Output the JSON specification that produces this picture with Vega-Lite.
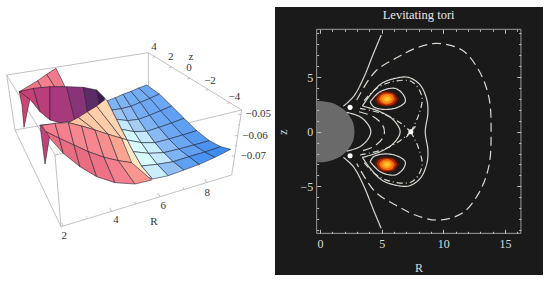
{"$schema":"https://vega.github.io/schema/vega-lite/v6.json","background":"white","padding":{"left":0,"top":7,"right":7,"bottom":6},"spacing":0,"bounds":"flush","config":{"view":{"stroke":null},"axis":{"grid":false}},
"hconcat":[
{"width":275,"height":268,"projection":{"type":"identity"},"layer":[
{"data":{"values":[{"type":"Feature","properties":{},"geometry":{"type":"Polygon","coordinates":[[[0,-69],[825,-69],[825,735],[0,735],[0,-69]]]}}]},"mark":{"type":"geoshape","fill":null,"stroke":null,"filled":false}},
{"data":{"values":[{"type":"Feature","properties":{},"geometry":{"type":"MultiLineString","coordinates":[[[20,135],[445,68],[725,240]],[[20,135],[45,300],[183,590],[695,435],[725,240]],[[20,135],[165,375],[183,590]],[[165,375],[725,240]],[[45,300],[445,230]],[[445,68],[445,230]],[[190,588],[185,578]],[[262,566],[259,560]],[[335,544],[329,533]],[[407,522],[404,516]],[[480,500],[474,489]],[[552,478],[549,472]],[[620,458],[614,447]],[[465,80],[457,82]],[[515,111],[507,113]],[[570,145],[562,147]],[[625,179],[617,181]],[[690,218],[682,220]],[[723,253],[714,253]],[[713,317],[704,317]],[[704,378],[695,378]],[[718,285],[713,285]],[[709,347],[704,347]]]}}]},"mark":{"type":"geoshape","filled":false,"stroke":"#a8a8a8","strokeWidth":0.7}},
{"data":{"values":[
{"type":"Feature","properties":{"shade":5.3},"geometry":{"type":"Polygon","coordinates":[[[58,185],[66,225],[72,292],[90,205],[100,175],[58,185]]]}},
{"type":"Feature","properties":{"shade":4.2},"geometry":{"type":"Polygon","coordinates":[[[58,185],[113,152],[125,173],[58,185]]]}},
{"type":"Feature","properties":{"shade":4.0},"geometry":{"type":"Polygon","coordinates":[[[113,152],[140,133],[165,171],[125,173],[113,152]]]}},
{"type":"Feature","properties":{"shade":4.1},"geometry":{"type":"Polygon","coordinates":[[[140,133],[168,115],[195,170],[165,171],[140,133]]]}},
{"type":"Feature","properties":{"shade":5.4},"geometry":{"type":"Polygon","coordinates":[[[58,185],[100,175],[120,245],[90,208],[58,185]]]}},
{"type":"Feature","properties":{"shade":5.6},"geometry":{"type":"Polygon","coordinates":[[[100,175],[150,170],[150,270],[120,245],[100,175]]]}},
{"type":"Feature","properties":{"shade":5.9},"geometry":{"type":"Polygon","coordinates":[[[150,170],[200,170],[225,273],[180,278],[150,270],[150,170]]]}},
{"type":"Feature","properties":{"shade":6.2},"geometry":{"type":"Polygon","coordinates":[[[200,170],[250,172],[265,258],[225,273],[200,170]]]}},
{"type":"Feature","properties":{"shade":6.6},"geometry":{"type":"Polygon","coordinates":[[[250,172],[290,180],[300,235],[265,258],[250,172]]]}},
{"type":"Feature","properties":{"shade":7},"geometry":{"type":"Polygon","coordinates":[[[290,180],[315,205],[300,235],[290,180]]]}},
{"type":"Feature","properties":{"shade":3.1},"geometry":{"type":"Polygon","coordinates":[[[205,278],[235,262],[285,300],[245,288],[205,278]]]}},
{"type":"Feature","properties":{"shade":3.0},"geometry":{"type":"Polygon","coordinates":[[[235,262],[262,245],[325,313],[285,300],[235,262]]]}},
{"type":"Feature","properties":{"shade":2.9},"geometry":{"type":"Polygon","coordinates":[[[262,245],[290,228],[365,325],[325,313],[262,245]]]}},
{"type":"Feature","properties":{"shade":2.7},"geometry":{"type":"Polygon","coordinates":[[[290,228],[316,208],[322,212],[336,240],[350,268],[365,298],[382,330],[365,325],[290,228]]]}},
{"type":"Feature","properties":{"shade":2.3},"geometry":{"type":"Polygon","coordinates":[[[365,325],[382,330],[400,365],[425,408],[458,447],[410,430],[385,390],[365,325]]]}}
]},"mark":{"type":"geoshape","stroke":"#2a1a28","strokeWidth":0.7,"strokeOpacity":0.8},"encoding":{"color":{"field":"properties.shade","type":"quantitative","legend":null,"scale":{"domain":[0,1,2,3,4,5,6,7],"range":["#3f8cf0","#a8cdf5","#ffffff","#fbc9a5","#f4808f","#d8506e","#a0387e","#35204f"]}}}},
{"data":{"values":[
{"type":"Feature","properties":{"shade":0.6},"geometry":{"type":"Polygon","coordinates":[[[322,212],[346,203],[364,236],[336,240],[322,212]]]}},
{"type":"Feature","properties":{"shade":0.6},"geometry":{"type":"Polygon","coordinates":[[[346,203],[369,193],[393,229],[364,236],[346,203]]]}},
{"type":"Feature","properties":{"shade":0.5},"geometry":{"type":"Polygon","coordinates":[[[369,193],[393,184],[421,217],[393,229],[369,193]]]}},
{"type":"Feature","properties":{"shade":0.5},"geometry":{"type":"Polygon","coordinates":[[[393,184],[416,174],[450,205],[421,217],[393,184]]]}},
{"type":"Feature","properties":{"shade":0.4},"geometry":{"type":"Polygon","coordinates":[[[416,174],[440,165],[478,192],[450,205],[416,174]]]}},
{"type":"Feature","properties":{"shade":0.9},"geometry":{"type":"Polygon","coordinates":[[[336,240],[364,236],[383,272],[350,268],[336,240]]]}},
{"type":"Feature","properties":{"shade":0.7},"geometry":{"type":"Polygon","coordinates":[[[364,236],[393,229],[416,268],[383,272],[364,236]]]}},
{"type":"Feature","properties":{"shade":0.5},"geometry":{"type":"Polygon","coordinates":[[[393,229],[421,217],[449,256],[416,268],[393,229]]]}},
{"type":"Feature","properties":{"shade":0.4},"geometry":{"type":"Polygon","coordinates":[[[421,217],[450,205],[482,242],[449,256],[421,217]]]}},
{"type":"Feature","properties":{"shade":0.4},"geometry":{"type":"Polygon","coordinates":[[[450,205],[478,192],[515,228],[482,242],[450,205]]]}},
{"type":"Feature","properties":{"shade":1.5},"geometry":{"type":"Polygon","coordinates":[[[350,268],[383,272],[402,305],[365,298],[350,268]]]}},
{"type":"Feature","properties":{"shade":1.0},"geometry":{"type":"Polygon","coordinates":[[[383,272],[416,268],[440,304],[402,305],[383,272]]]}},
{"type":"Feature","properties":{"shade":0.6},"geometry":{"type":"Polygon","coordinates":[[[416,268],[449,256],[477,292],[440,304],[416,268]]]}},
{"type":"Feature","properties":{"shade":0.4},"geometry":{"type":"Polygon","coordinates":[[[449,256],[482,242],[515,279],[477,292],[449,256]]]}},
{"type":"Feature","properties":{"shade":0.3},"geometry":{"type":"Polygon","coordinates":[[[482,242],[515,228],[552,265],[515,279],[482,242]]]}},
{"type":"Feature","properties":{"shade":1.8},"geometry":{"type":"Polygon","coordinates":[[[365,298],[402,305],[424,338],[382,330],[365,298]]]}},
{"type":"Feature","properties":{"shade":1.5},"geometry":{"type":"Polygon","coordinates":[[[402,305],[440,304],[465,338],[424,338],[402,305]]]}},
{"type":"Feature","properties":{"shade":0.7},"geometry":{"type":"Polygon","coordinates":[[[440,304],[477,292],[507,327],[465,338],[440,304]]]}},
{"type":"Feature","properties":{"shade":0.4},"geometry":{"type":"Polygon","coordinates":[[[477,292],[515,279],[548,315],[507,327],[477,292]]]}},
{"type":"Feature","properties":{"shade":0.3},"geometry":{"type":"Polygon","coordinates":[[[515,279],[552,265],[590,302],[548,315],[515,279]]]}},
{"type":"Feature","properties":{"shade":1.9},"geometry":{"type":"Polygon","coordinates":[[[382,330],[424,338],[446,370],[400,365],[382,330]]]}},
{"type":"Feature","properties":{"shade":1.6},"geometry":{"type":"Polygon","coordinates":[[[424,338],[465,338],[491,368],[446,370],[424,338]]]}},
{"type":"Feature","properties":{"shade":0.7},"geometry":{"type":"Polygon","coordinates":[[[465,338],[507,327],[537,357],[491,368],[465,338]]]}},
{"type":"Feature","properties":{"shade":0.4},"geometry":{"type":"Polygon","coordinates":[[[507,327],[548,315],[582,345],[537,357],[507,327]]]}},
{"type":"Feature","properties":{"shade":0.2},"geometry":{"type":"Polygon","coordinates":[[[548,315],[590,302],[628,332],[582,345],[548,315]]]}},
{"type":"Feature","properties":{"shade":1.9},"geometry":{"type":"Polygon","coordinates":[[[400,365],[446,370],[472,403],[425,408],[400,365]]]}},
{"type":"Feature","properties":{"shade":1.5},"geometry":{"type":"Polygon","coordinates":[[[446,370],[491,368],[520,395],[472,403],[446,370]]]}},
{"type":"Feature","properties":{"shade":0.6},"geometry":{"type":"Polygon","coordinates":[[[491,368],[537,357],[567,380],[520,395],[491,368]]]}},
{"type":"Feature","properties":{"shade":0.3},"geometry":{"type":"Polygon","coordinates":[[[537,357],[582,345],[615,366],[567,380],[537,357]]]}},
{"type":"Feature","properties":{"shade":0.1},"geometry":{"type":"Polygon","coordinates":[[[582,345],[628,332],[662,350],[615,366],[582,345]]]}},
{"type":"Feature","properties":{"shade":1.6},"geometry":{"type":"Polygon","coordinates":[[[425,408],[472,403],[505,437],[458,447],[425,408]]]}},
{"type":"Feature","properties":{"shade":0.8},"geometry":{"type":"Polygon","coordinates":[[[472,403],[520,395],[552,420],[505,437],[472,403]]]}},
{"type":"Feature","properties":{"shade":0.3},"geometry":{"type":"Polygon","coordinates":[[[520,395],[567,380],[598,403],[552,420],[520,395]]]}},
{"type":"Feature","properties":{"shade":0.1},"geometry":{"type":"Polygon","coordinates":[[[567,380],[615,366],[645,382],[598,403],[567,380]]]}},
{"type":"Feature","properties":{"shade":0},"geometry":{"type":"Polygon","coordinates":[[[615,366],[662,350],[692,358],[645,382],[615,366]]]}},
{"type":"Feature","properties":{"shade":5.4},"geometry":{"type":"Polygon","coordinates":[[[120,285],[135,402],[148,325],[165,283],[120,285]]]}},
{"type":"Feature","properties":{"shade":4.0},"geometry":{"type":"Polygon","coordinates":[[[125,286],[165,280],[178,325],[138,305],[125,286]]]}},
{"type":"Feature","properties":{"shade":4.0},"geometry":{"type":"Polygon","coordinates":[[[165,280],[205,278],[222,345],[178,325],[165,280]]]}},
{"type":"Feature","properties":{"shade":3.9},"geometry":{"type":"Polygon","coordinates":[[[205,278],[245,288],[265,365],[222,345],[205,278]]]}},
{"type":"Feature","properties":{"shade":3.9},"geometry":{"type":"Polygon","coordinates":[[[245,288],[285,300],[312,382],[265,365],[245,288]]]}},
{"type":"Feature","properties":{"shade":3.8},"geometry":{"type":"Polygon","coordinates":[[[285,300],[325,313],[355,392],[312,382],[285,300]]]}},
{"type":"Feature","properties":{"shade":3.5},"geometry":{"type":"Polygon","coordinates":[[[325,313],[365,325],[395,398],[355,392],[325,313]]]}},
{"type":"Feature","properties":{"shade":4.4},"geometry":{"type":"Polygon","coordinates":[[[138,305],[178,325],[190,370],[150,325],[138,305]]]}},
{"type":"Feature","properties":{"shade":4.4},"geometry":{"type":"Polygon","coordinates":[[[178,325],[222,345],[240,410],[190,370],[178,325]]]}},
{"type":"Feature","properties":{"shade":4.4},"geometry":{"type":"Polygon","coordinates":[[[222,345],[265,365],[290,440],[240,410],[222,345]]]}},
{"type":"Feature","properties":{"shade":4.3},"geometry":{"type":"Polygon","coordinates":[[[265,365],[312,382],[345,458],[290,440],[265,365]]]}},
{"type":"Feature","properties":{"shade":4.0},"geometry":{"type":"Polygon","coordinates":[[[312,382],[355,392],[405,462],[345,458],[312,382]]]}},
{"type":"Feature","properties":{"shade":3.7},"geometry":{"type":"Polygon","coordinates":[[[355,392],[395,398],[455,450],[405,462],[355,392]]]}}
]},"mark":{"type":"geoshape","stroke":"#1c2030","strokeWidth":0.7,"strokeOpacity":0.8},"encoding":{"color":{"field":"properties.shade","type":"quantitative","legend":null,"scale":{"domain":[0,1,2,3,4,5,6,7],"range":["#3f8cf0","#a8cdf5","#ffffff","#fbc9a5","#f4808f","#d8506e","#a0387e","#35204f"]}}}},
{"data":{"values":[{"u":462,"v":50,"t":"4"},{"u":512,"v":82,"t":"2"},{"u":573,"v":80,"t":"z"},{"u":567,"v":113,"t":"0"},{"u":630,"v":153,"t":"−2"},{"u":703,"v":200,"t":"−4"},{"u":775,"v":253,"t":"−0.05"},{"u":765,"v":317,"t":"−0.06"},{"u":760,"v":378,"t":"−0.07"},{"u":193,"v":618,"t":"2"},{"u":348,"v":570,"t":"4"},{"u":462,"v":575,"t":"R"},{"u":490,"v":528,"t":"6"},{"u":622,"v":490,"t":"8"}]},"mark":{"type":"text","font":"Liberation Serif","fontSize":11,"color":"#333333"},"encoding":{"longitude":{"field":"u","type":"quantitative"},"latitude":{"field":"v","type":"quantitative"},"text":{"field":"t"}}}
]},
{"width":268,"height":268,"view":{"fill":"#1a1a1a","stroke":null},
"resolve":{"axis":{"x":"independent","y":"independent"}},
"encoding":{"x":{"field":"R","type":"quantitative","scale":{"domain":[-3.65,18.09],"nice":false,"zero":false},"axis":null},"y":{"field":"z","type":"quantitative","scale":{"domain":[-13.11,11.41],"nice":false,"zero":false},"axis":null}},
"layer":[
{"data":{"values":[{"R":-0.27,"R2":16.3,"z":-9.3,"z2":9.37}]},"mark":{"type":"rect","filled":false,"stroke":"#bdbdbd","strokeWidth":0.8},
"encoding":{"x":{"field":"R","type":"quantitative","scale":{"domain":[-3.65,18.09],"nice":false,"zero":false},"title":"R","axis":{"orient":"bottom","offset":-41.7,"domain":false,"grid":false,"values":[0,1,2,3,4,5,6,7,8,9,10,11,12,13,14,15,16],"labelExpr":"datum.value%5===0?datum.label:''","tickColor":"#bdbdbd","tickSize":{"condition":{"test":"datum.value%5===0","value":-4},"value":-2},"labelColor":"#dddddd","labelFont":"Liberation Serif","labelFontSize":12,"labelPadding":9,"labelFlush":false,"labelOverlap":false,"titleColor":"#dddddd","titleFont":"Liberation Serif","titleFontSize":12,"titleFontWeight":"normal","titleX":143.5,"titleY":29}},"x2":{"field":"R2"},
"y":{"field":"z","type":"quantitative","scale":{"domain":[-13.11,11.41],"nice":false,"zero":false},"title":"z","axis":{"orient":"left","offset":-41.7,"domain":false,"grid":false,"values":[-9,-8,-7,-6,-5,-4,-3,-2,-1,0,1,2,3,4,5,6,7,8,9],"labelExpr":"datum.value%5===0?datum.label:''","tickColor":"#bdbdbd","tickSize":{"condition":{"test":"datum.value%5===0","value":-4},"value":-2},"labelColor":"#dddddd","labelFont":"Liberation Serif","labelFontSize":12,"labelPadding":8,"labelFlush":false,"labelOverlap":false,"titleColor":"#dddddd","titleFont":"Liberation Serif","titleFontSize":12,"titleFontWeight":"normal","titleX":-27,"titleY":124.7,"zindex":1}},"y2":{"field":"z2"}}},
{"data":{"values":[{"R":-0.27,"z":-9.3}]},"mark":{"type":"point","opacity":0},
"encoding":{"x":{"field":"R","type":"quantitative","scale":{"domain":[-3.65,18.09],"nice":false,"zero":false},"title":null,"axis":{"orient":"top","offset":-22.3,"domain":false,"grid":false,"labels":false,"values":[0,1,2,3,4,5,6,7,8,9,10,11,12,13,14,15,16],"tickColor":"#bdbdbd","tickSize":{"condition":{"test":"datum.value%5===0","value":-4},"value":-2}}},
"y":{"field":"z","type":"quantitative","scale":{"domain":[-13.11,11.41],"nice":false,"zero":false},"title":null,"axis":{"orient":"right","offset":-22.3,"domain":false,"grid":false,"labels":false,"values":[-9,-8,-7,-6,-5,-4,-3,-2,-1,0,1,2,3,4,5,6,7,8,9],"tickColor":"#bdbdbd","tickSize":{"condition":{"test":"datum.value%5===0","value":-4},"value":-2}}}}},
{"data":{"values":[
{"level":"star","lobe":"s","R":-0.27,"z_low":-2.79,"z_high":2.79},{"level":"star","lobe":"s","R":0,"z_low":-2.8,"z_high":2.8},{"level":"star","lobe":"s","R":0.5,"z_low":-2.75,"z_high":2.75},{"level":"star","lobe":"s","R":1,"z_low":-2.62,"z_high":2.62},{"level":"star","lobe":"s","R":1.5,"z_low":-2.36,"z_high":2.36},{"level":"star","lobe":"s","R":2,"z_low":-1.96,"z_high":1.96},{"level":"star","lobe":"s","R":2.4,"z_low":-1.44,"z_high":1.44},{"level":"star","lobe":"s","R":2.6,"z_low":-1.04,"z_high":1.04},{"level":"star","lobe":"s","R":2.75,"z_low":-0.52,"z_high":0.52},{"level":"star","lobe":"s","R":2.8,"z_low":0,"z_high":0},
{"level":"a","lobe":"u","R":4.4,"z_low":2.9,"z_high":2.9},{"level":"a","lobe":"u","R":4.7,"z_low":2.45,"z_high":3.45},{"level":"a","lobe":"u","R":5.2,"z_low":2.3,"z_high":3.7},{"level":"a","lobe":"u","R":5.8,"z_low":2.35,"z_high":3.7},{"level":"a","lobe":"u","R":6.2,"z_low":2.6,"z_high":3.35},{"level":"a","lobe":"u","R":6.42,"z_low":3,"z_high":3},
{"level":"b","lobe":"u","R":4.6,"z_low":2.9,"z_high":2.95},{"level":"b","lobe":"u","R":4.85,"z_low":2.55,"z_high":3.4},{"level":"b","lobe":"u","R":5.3,"z_low":2.4,"z_high":3.6},{"level":"b","lobe":"u","R":5.8,"z_low":2.45,"z_high":3.55},{"level":"b","lobe":"u","R":6.1,"z_low":2.7,"z_high":3.3},{"level":"b","lobe":"u","R":6.25,"z_low":3,"z_high":3},
{"level":"c","lobe":"u","R":4.8,"z_low":2.95,"z_high":3},{"level":"c","lobe":"u","R":5,"z_low":2.65,"z_high":3.35},{"level":"c","lobe":"u","R":5.4,"z_low":2.5,"z_high":3.5},{"level":"c","lobe":"u","R":5.75,"z_low":2.6,"z_high":3.45},{"level":"c","lobe":"u","R":5.95,"z_low":2.8,"z_high":3.25},{"level":"c","lobe":"u","R":6.05,"z_low":3,"z_high":3},
{"level":"d","lobe":"u","R":5,"z_low":3,"z_high":3.05},{"level":"d","lobe":"u","R":5.2,"z_low":2.7,"z_high":3.3},{"level":"d","lobe":"u","R":5.5,"z_low":2.65,"z_high":3.35},{"level":"d","lobe":"u","R":5.75,"z_low":2.8,"z_high":3.2},{"level":"d","lobe":"u","R":5.85,"z_low":3,"z_high":3},
{"level":"e","lobe":"u","R":5.2,"z_low":3,"z_high":3},{"level":"e","lobe":"u","R":5.35,"z_low":2.82,"z_high":3.18},{"level":"e","lobe":"u","R":5.55,"z_low":2.82,"z_high":3.15},{"level":"e","lobe":"u","R":5.7,"z_low":3,"z_high":3},
{"level":"a","lobe":"l","R":4.4,"z_low":-2.9,"z_high":-2.9},{"level":"a","lobe":"l","R":4.7,"z_low":-3.45,"z_high":-2.45},{"level":"a","lobe":"l","R":5.2,"z_low":-3.7,"z_high":-2.3},{"level":"a","lobe":"l","R":5.8,"z_low":-3.7,"z_high":-2.35},{"level":"a","lobe":"l","R":6.2,"z_low":-3.35,"z_high":-2.6},{"level":"a","lobe":"l","R":6.42,"z_low":-3,"z_high":-3},
{"level":"b","lobe":"l","R":4.6,"z_low":-2.95,"z_high":-2.9},{"level":"b","lobe":"l","R":4.85,"z_low":-3.4,"z_high":-2.55},{"level":"b","lobe":"l","R":5.3,"z_low":-3.6,"z_high":-2.4},{"level":"b","lobe":"l","R":5.8,"z_low":-3.55,"z_high":-2.45},{"level":"b","lobe":"l","R":6.1,"z_low":-3.3,"z_high":-2.7},{"level":"b","lobe":"l","R":6.25,"z_low":-3,"z_high":-3},
{"level":"c","lobe":"l","R":4.8,"z_low":-3,"z_high":-2.95},{"level":"c","lobe":"l","R":5,"z_low":-3.35,"z_high":-2.65},{"level":"c","lobe":"l","R":5.4,"z_low":-3.5,"z_high":-2.5},{"level":"c","lobe":"l","R":5.75,"z_low":-3.45,"z_high":-2.6},{"level":"c","lobe":"l","R":5.95,"z_low":-3.25,"z_high":-2.8},{"level":"c","lobe":"l","R":6.05,"z_low":-3,"z_high":-3},
{"level":"d","lobe":"l","R":5,"z_low":-3.05,"z_high":-3},{"level":"d","lobe":"l","R":5.2,"z_low":-3.3,"z_high":-2.7},{"level":"d","lobe":"l","R":5.5,"z_low":-3.35,"z_high":-2.65},{"level":"d","lobe":"l","R":5.75,"z_low":-3.2,"z_high":-2.8},{"level":"d","lobe":"l","R":5.85,"z_low":-3,"z_high":-3},
{"level":"e","lobe":"l","R":5.2,"z_low":-3,"z_high":-3},{"level":"e","lobe":"l","R":5.35,"z_low":-3.18,"z_high":-2.82},{"level":"e","lobe":"l","R":5.55,"z_low":-3.15,"z_high":-2.82},{"level":"e","lobe":"l","R":5.7,"z_low":-3,"z_high":-3}
]},"mark":{"type":"area","interpolate":"monotone"},
"encoding":{"y":{"field":"z_low","type":"quantitative","stack":false,"scale":{"domain":[-13.11,11.41],"nice":false,"zero":false},"axis":null},"y2":{"field":"z_high"},"detail":{"field":"lobe"},"color":{"field":"level","type":"nominal","legend":null,"scale":{"domain":["star","a","b","c","d","e"],"range":["#6a6a6a","#5a1408","#b02a08","#f07010","#fb9c18","#fdc52c"]}}}},
{"data":{"values":[
{"id":"out","style":"dashed","i":0,"R":2.98,"z":2.9},{"id":"out","style":"dashed","i":1,"R":4.47,"z":5.49},{"id":"out","style":"dashed","i":2,"R":6.37,"z":6.86},{"id":"out","style":"dashed","i":3,"R":7.72,"z":7.62},{"id":"out","style":"dashed","i":4,"R":9.49,"z":8.08},{"id":"out","style":"dashed","i":5,"R":11.52,"z":7.47},{"id":"out","style":"dashed","i":6,"R":12.87,"z":5.64},{"id":"out","style":"dashed","i":7,"R":13.69,"z":3.2},{"id":"out","style":"dashed","i":8,"R":13.88,"z":0},{"id":"out","style":"dashed","i":9,"R":13.69,"z":-3.2},{"id":"out","style":"dashed","i":10,"R":12.87,"z":-5.64},{"id":"out","style":"dashed","i":11,"R":11.52,"z":-7.47},{"id":"out","style":"dashed","i":12,"R":9.49,"z":-8.08},{"id":"out","style":"dashed","i":13,"R":7.72,"z":-7.62},{"id":"out","style":"dashed","i":14,"R":6.37,"z":-6.86},{"id":"out","style":"dashed","i":15,"R":4.47,"z":-5.49},{"id":"out","style":"dashed","i":16,"R":2.98,"z":-2.9},
{"id":"heart","style":"solid","i":0,"R":3.44,"z":2.35},{"id":"heart","style":"solid","i":1,"R":4.07,"z":3.35},{"id":"heart","style":"solid","i":2,"R":5.01,"z":4.42},{"id":"heart","style":"solid","i":3,"R":6.1,"z":4.88},{"id":"heart","style":"solid","i":4,"R":7.18,"z":4.97},{"id":"heart","style":"solid","i":5,"R":8.13,"z":4.27},{"id":"heart","style":"solid","i":6,"R":8.67,"z":2.9},{"id":"heart","style":"solid","i":7,"R":8.75,"z":1.68},{"id":"heart","style":"solid","i":8,"R":8.54,"z":0},{"id":"heart","style":"solid","i":9,"R":8.75,"z":-1.68},{"id":"heart","style":"solid","i":10,"R":8.67,"z":-2.9},{"id":"heart","style":"solid","i":11,"R":8.13,"z":-4.27},{"id":"heart","style":"solid","i":12,"R":7.18,"z":-4.97},{"id":"heart","style":"solid","i":13,"R":6.1,"z":-4.88},{"id":"heart","style":"solid","i":14,"R":5.01,"z":-4.42},{"id":"heart","style":"solid","i":15,"R":4.07,"z":-3.35},{"id":"heart","style":"solid","i":16,"R":3.44,"z":-2.35},
{"id":"arch","style":"solid","i":0,"R":3.44,"z":2.35},{"id":"arch","style":"solid","i":1,"R":4.88,"z":1.83},{"id":"arch","style":"solid","i":2,"R":5.96,"z":1.07},{"id":"arch","style":"solid","i":3,"R":6.5,"z":0},{"id":"arch","style":"solid","i":4,"R":5.96,"z":-1.07},{"id":"arch","style":"solid","i":5,"R":4.88,"z":-1.83},{"id":"arch","style":"solid","i":6,"R":3.44,"z":-2.35},
{"id":"inner","style":"solid","i":0,"R":2.17,"z":1.77},{"id":"inner","style":"solid","i":1,"R":3.25,"z":1.37},{"id":"inner","style":"solid","i":2,"R":3.93,"z":0.61},{"id":"inner","style":"solid","i":3,"R":4.12,"z":0},{"id":"inner","style":"solid","i":4,"R":3.93,"z":-0.61},{"id":"inner","style":"solid","i":5,"R":3.25,"z":-1.37},{"id":"inner","style":"solid","i":6,"R":2.17,"z":-1.77},
{"id":"fu","style":"solid","i":0,"R":1.9,"z":2.35},{"id":"fu","style":"solid","i":1,"R":2.71,"z":3.2},{"id":"fu","style":"solid","i":2,"R":3.52,"z":4.88},{"id":"fu","style":"solid","i":3,"R":4.34,"z":7.16},{"id":"fu","style":"solid","i":4,"R":4.96,"z":8.84},
{"id":"fl","style":"solid","i":0,"R":1.9,"z":-2.35},{"id":"fl","style":"solid","i":1,"R":2.71,"z":-3.2},{"id":"fl","style":"solid","i":2,"R":3.52,"z":-4.88},{"id":"fl","style":"solid","i":3,"R":4.34,"z":-7.16},{"id":"fl","style":"solid","i":4,"R":4.96,"z":-8.84},
{"id":"tu","style":"solid","i":0,"R":4.07,"z":2.74},{"id":"tu","style":"solid","i":1,"R":4.88,"z":3.66},{"id":"tu","style":"solid","i":2,"R":6.1,"z":3.96},{"id":"tu","style":"solid","i":3,"R":6.78,"z":3.35},{"id":"tu","style":"solid","i":4,"R":6.91,"z":2.74},{"id":"tu","style":"solid","i":5,"R":6.23,"z":2.2},{"id":"tu","style":"solid","i":6,"R":5.15,"z":2.04},{"id":"tu","style":"solid","i":7,"R":4.34,"z":2.29},{"id":"tu","style":"solid","i":8,"R":4.07,"z":2.74},
{"id":"tl","style":"solid","i":0,"R":4.07,"z":-2.74},{"id":"tl","style":"solid","i":1,"R":4.88,"z":-3.66},{"id":"tl","style":"solid","i":2,"R":6.1,"z":-3.96},{"id":"tl","style":"solid","i":3,"R":6.78,"z":-3.35},{"id":"tl","style":"solid","i":4,"R":6.91,"z":-2.74},{"id":"tl","style":"solid","i":5,"R":6.23,"z":-2.2},{"id":"tl","style":"solid","i":6,"R":5.15,"z":-2.04},{"id":"tl","style":"solid","i":7,"R":4.34,"z":-2.29},{"id":"tl","style":"solid","i":8,"R":4.07,"z":-2.74},
{"id":"da","style":"dashed","i":0,"R":3.17,"z":1.83},{"id":"da","style":"dashed","i":1,"R":4.34,"z":1.37},{"id":"da","style":"dashed","i":2,"R":5.07,"z":0.61},{"id":"da","style":"dashed","i":3,"R":5.23,"z":0},{"id":"da","style":"dashed","i":4,"R":5.07,"z":-0.61},{"id":"da","style":"dashed","i":5,"R":4.34,"z":-1.37},{"id":"da","style":"dashed","i":6,"R":3.17,"z":-1.83},
{"id":"xu","style":"dashdot","i":0,"R":7.37,"z":0},{"id":"xu","style":"dashdot","i":1,"R":8,"z":1.52},{"id":"xu","style":"dashdot","i":2,"R":8.27,"z":3.2},{"id":"xu","style":"dashdot","i":3,"R":7.45,"z":4.57},{"id":"xu","style":"dashdot","i":4,"R":5.83,"z":4.57},{"id":"xu","style":"dashdot","i":5,"R":4.47,"z":3.87},{"id":"xu","style":"dashdot","i":6,"R":3.52,"z":2.74},
{"id":"xl","style":"dashdot","i":0,"R":7.37,"z":0},{"id":"xl","style":"dashdot","i":1,"R":8,"z":-1.52},{"id":"xl","style":"dashdot","i":2,"R":8.27,"z":-3.2},{"id":"xl","style":"dashdot","i":3,"R":7.45,"z":-4.57},{"id":"xl","style":"dashdot","i":4,"R":5.83,"z":-4.57},{"id":"xl","style":"dashdot","i":5,"R":4.47,"z":-3.87},{"id":"xl","style":"dashdot","i":6,"R":3.52,"z":-2.74},
{"id":"au","style":"dashdot","i":0,"R":3.25,"z":2.13},{"id":"au","style":"dashdot","i":1,"R":5.15,"z":1.62},{"id":"au","style":"dashdot","i":2,"R":6.5,"z":0.82},{"id":"au","style":"dashdot","i":3,"R":7.37,"z":0},
{"id":"al","style":"dashdot","i":0,"R":3.25,"z":-2.13},{"id":"al","style":"dashdot","i":1,"R":5.15,"z":-1.62},{"id":"al","style":"dashdot","i":2,"R":6.5,"z":-0.82},{"id":"al","style":"dashdot","i":3,"R":7.37,"z":0},
{"id":"c1","style":"solid","i":0,"R":7.0,"z":-0.5},{"id":"c1","style":"solid","i":1,"R":7.75,"z":0.5}
]},"mark":{"type":"line","interpolate":"catmull-rom","color":"#d8d8d0","strokeWidth":1.2},
"encoding":{"detail":{"field":"id"},"order":{"field":"i","type":"quantitative"},"strokeDash":{"field":"style","type":"nominal","legend":null,"scale":{"domain":["solid","dashed","dashdot"],"range":[[1,0],[9,5],[6,3,1,3]]}}}},
{"data":{"values":[{"R":2.44,"z":2.23},{"R":2.44,"z":-2.2},{"R":7.37,"z":0}]},"mark":{"type":"point","filled":true,"color":"white","size":26,"opacity":1}},
{"data":{"values":[{"R":8,"z":10.7,"label":"Levitating tori"}]},"mark":{"type":"text","font":"Liberation Serif","fontSize":12.5,"color":"#e8e8e8"},"encoding":{"text":{"field":"label"}}}
]}
]}
